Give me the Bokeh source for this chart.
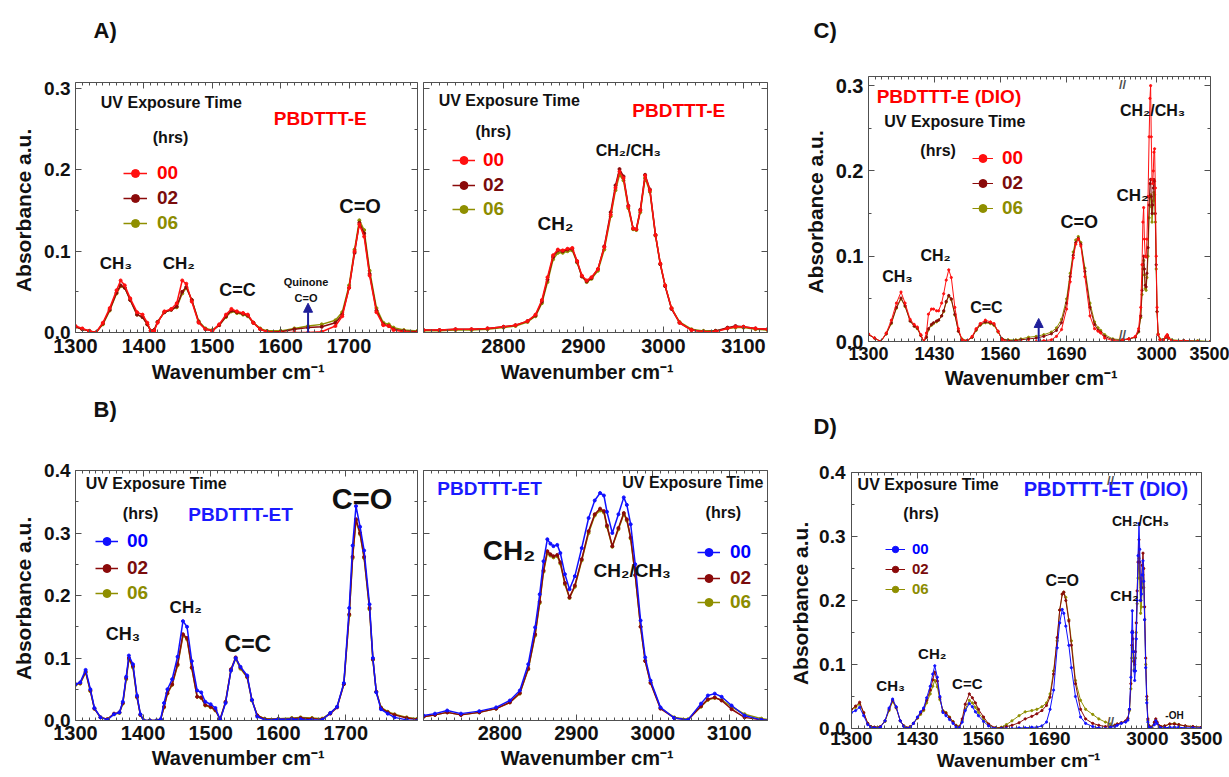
from bokeh.plotting import figure
from bokeh.models import (Range1d, LinearAxis, FixedTicker, PrintfTickFormatter, Label,
                          Legend, LegendItem, Arrow, NormalHead, ColumnDataSource)
from bokeh.layouts import row, column
from bokeh.core.properties import value
from bokeh.embed import file_html
from bokeh.resources import INLINE

# ---------------- data ----------------
SERIES = ["00", "02", "06"]

A_LEFT_X = [1300,1310,1320,1330,1340,1350,1360,1366,1372,1380,1390,1398,1405,1410,1415,1420,1430,1440,1448,1456,
            1462,1470,1480,1490,1500,1510,1520,1528,1536,1545,1552,1560,1570,1580,1600,1620,1640,1660,1680,1690,
            1700,1708,1715,1722,1730,1740,1750,1758,1765,1780,1800]
A_LEFT_00 = [.008,.005,.002,.000,.012,.030,.052,.064,.058,.042,.025,.022,.012,.002,.002,.012,.026,.029,.036,.064,
             .060,.038,.012,.004,.002,.010,.022,.029,.026,.024,.022,.012,.004,.001,.000,.000,.000,.001,.008,.020,
             .055,.100,.133,.118,.070,.025,.009,.008,.003,.001,.000]
A_LEFT_02 = [.007,.004,.002,.000,.011,.028,.049,.058,.055,.040,.022,.019,.010,.002,.003,.013,.025,.028,.032,.050,
             .056,.040,.013,.004,.002,.009,.020,.027,.025,.023,.021,.012,.004,.001,.001,.004,.006,.007,.012,.022,
             .055,.098,.135,.122,.072,.027,.010,.008,.004,.002,.001]
A_LEFT_06 = [.007,.004,.002,.000,.010,.027,.048,.057,.055,.040,.022,.019,.010,.002,.003,.013,.025,.028,.031,.048,
             .055,.040,.014,.005,.003,.009,.019,.026,.024,.022,.020,.012,.005,.002,.002,.005,.008,.010,.015,.025,
             .058,.102,.138,.126,.076,.030,.012,.010,.006,.003,.002]

A_RIGHT_X = [2700,2720,2740,2760,2780,2800,2815,2830,2840,2848,2855,2862,2868,2874,2880,2886,2892,2898,2904,2910,
             2918,2926,2934,2940,2945,2950,2956,2962,2966,2971,2977,2983,2990,2996,3002,3010,3020,3035,3050,3065,
             3080,3090,3100,3115,3130]
A_RIGHT_00 = [.003,.003,.004,.004,.005,.007,.009,.014,.022,.040,.068,.095,.102,.101,.103,.104,.088,.070,.064,.068,
              .078,.105,.145,.178,.198,.190,.155,.128,.127,.150,.193,.175,.120,.085,.058,.030,.012,.003,.001,.001,
              .005,.007,.007,.005,.004]
A_RIGHT_02 = [.003,.003,.004,.004,.005,.007,.009,.014,.021,.038,.065,.093,.101,.100,.102,.103,.087,.069,.063,.067,
              .078,.106,.148,.181,.201,.192,.156,.128,.127,.151,.194,.176,.120,.084,.057,.029,.012,.003,.001,.002,
              .006,.008,.007,.005,.004]
A_RIGHT_06 = [.002,.002,.003,.003,.004,.006,.008,.013,.020,.036,.062,.090,.098,.098,.100,.101,.086,.069,.062,.066,
              .076,.102,.143,.175,.194,.187,.153,.127,.126,.148,.190,.173,.119,.084,.058,.030,.013,.004,.002,.002,
              .005,.006,.006,.004,.003]

B_LEFT_X = [1300,1307,1315,1322,1328,1337,1347,1357,1365,1370,1375,1379,1385,1391,1396,1401,1410,1420,1426,1431,
            1436,1443,1451,1459,1465,1472,1480,1486,1492,1500,1507,1514,1522,1530,1537,1544,1554,1561,1569,1580,
            1600,1620,1633,1650,1665,1677,1687,1697,1705,1710,1715,1721,1727,1735,1740,1745,1752,1762,1772,1790,1806]
B_LEFT_00 = [.058,.061,.081,.050,.020,.005,.001,.010,.013,.030,.070,.104,.090,.040,.010,.000,.000,.000,.002,.028,
             .050,.066,.102,.159,.150,.095,.048,.045,.030,.026,.020,.001,.028,.080,.100,.086,.072,.033,.006,.001,
             .002,.002,.002,.001,.001,.012,.022,.060,.180,.280,.343,.310,.272,.186,.100,.045,.018,.011,.005,.001,.000]
B_LEFT_02 = [.058,.060,.078,.048,.019,.005,.002,.011,.013,.028,.068,.100,.087,.038,.009,.000,.000,.000,.002,.022,
             .044,.058,.090,.138,.132,.085,.038,.037,.025,.022,.017,.002,.030,.082,.101,.085,.070,.033,.008,.002,
             .002,.003,.004,.003,.002,.011,.021,.058,.170,.262,.322,.300,.262,.180,.098,.046,.020,.013,.009,.004,.002]
B_LEFT_06 = [.057,.059,.077,.047,.019,.005,.002,.010,.012,.027,.066,.098,.085,.037,.009,.000,.000,.000,.002,.021,
             .043,.057,.088,.136,.130,.084,.038,.036,.024,.021,.016,.002,.029,.080,.099,.083,.069,.032,.008,.003,
             .003,.004,.005,.004,.003,.012,.022,.058,.168,.260,.320,.298,.260,.178,.097,.046,.021,.014,.010,.005,.003]

B_RIGHT_X = [2700,2715,2731,2749,2773,2795,2813,2826,2837,2846,2852,2857,2862,2866,2870,2875,2879,2885,2891,2898,
             2907,2916,2924,2931,2936,2940,2947,2955,2962,2966,2971,2977,2984,2990,2997,3010,3028,3046,3063,3072,
             3081,3090,3103,3120,3142,3154]
B_RIGHT_00 = [.008,.011,.016,.011,.015,.021,.032,.048,.090,.149,.202,.255,.290,.283,.279,.281,.268,.234,.210,.231,
              .276,.324,.352,.364,.360,.334,.300,.330,.357,.345,.314,.250,.160,.101,.064,.021,.004,.001,.027,.040,
              .043,.038,.024,.008,.001,.000]
B_RIGHT_02 = [.006,.009,.013,.009,.013,.019,.029,.044,.083,.138,.190,.240,.271,.266,.263,.265,.253,.220,.197,.216,
              .258,.303,.330,.339,.335,.312,.279,.308,.332,.322,.293,.233,.150,.095,.060,.019,.004,.001,.023,.034,
              .037,.032,.018,.005,.001,.000]
B_RIGHT_06 = [.006,.009,.013,.009,.013,.019,.029,.043,.082,.136,.188,.238,.268,.264,.261,.263,.251,.218,.196,.214,
              .256,.300,.328,.336,.333,.310,.278,.306,.330,.320,.291,.232,.150,.096,.061,.020,.005,.002,.022,.033,
              .036,.033,.022,.010,.003,.001]

C_LEFT_X = [1300,1312,1324,1335,1345,1355,1364,1372,1382,1390,1396,1403,1409,1414,1418,1424,1428,1434,1438,1444,
            1448,1453,1458,1463,1470,1477,1484,1494,1504,1512,1520,1530,1540,1547,1555,1563,1575,1590,1600,1615,
            1630,1645,1660,1670,1680,1690,1697,1703,1708,1713,1718,1726,1736,1745,1752,1757,1765,1781,1800]
C_LEFT_00 = [.009,.004,.000,.010,.025,.045,.058,.045,.026,.020,.017,.008,.000,.010,.032,.038,.038,.036,.036,.045,
             .056,.072,.084,.075,.040,.015,.002,.001,.006,.015,.021,.025,.023,.021,.012,.002,.000,.000,.000,.000,
             .000,.001,.002,.006,.014,.038,.070,.098,.114,.120,.112,.076,.030,.015,.012,.010,.004,.001,.000]
C_LEFT_02 = [.008,.004,.000,.009,.022,.040,.051,.042,.024,.018,.016,.007,.000,.005,.015,.020,.022,.024,.025,.030,
             .036,.047,.054,.050,.032,.012,.002,.001,.005,.014,.020,.023,.022,.020,.012,.003,.001,.001,.002,.003,
             .004,.006,.009,.013,.022,.045,.076,.101,.116,.121,.114,.082,.040,.020,.013,.011,.006,.002,.001]
C_LEFT_06 = [.008,.004,.000,.009,.021,.039,.050,.041,.024,.018,.015,.007,.000,.005,.014,.019,.021,.023,.025,.030,
             .035,.046,.053,.049,.031,.012,.003,.001,.005,.013,.019,.022,.021,.019,.011,.003,.002,.002,.003,.005,
             .006,.008,.011,.016,.026,.050,.080,.105,.119,.123,.116,.086,.045,.023,.016,.013,.008,.003,.002]

C_RIGHT_X = [2680,2740,2800,2830,2850,2862,2870,2877,2884,2892,2900,2908,2918,2928,2936,2942,2948,2955,2961,2967,
             2973,2979,2986,2994,3002,3012,3030,3060,3085,3097,3110,3140,3250,3380,3500]
C_RIGHT_00 = [.002,.003,.006,.015,.040,.090,.140,.157,.120,.100,.099,.120,.170,.240,.285,.300,.240,.190,.185,.200,
              .222,.226,.180,.100,.040,.008,.002,.002,.006,.008,.004,.001,.001,.000,.000]
C_RIGHT_02 = [.002,.003,.005,.012,.030,.060,.090,.100,.085,.066,.064,.080,.110,.160,.185,.190,.170,.150,.160,.180,
              .190,.188,.150,.090,.035,.008,.002,.002,.005,.007,.004,.001,.001,.000,.000]
C_RIGHT_06 = [.002,.003,.005,.011,.028,.055,.085,.095,.078,.062,.060,.075,.100,.145,.168,.172,.158,.140,.150,.165,
              .175,.172,.140,.085,.035,.009,.003,.002,.005,.007,.004,.002,.001,.001,.000]

D_LEFT_X = [1300,1308,1316,1324,1332,1338,1345,1357,1366,1374,1381,1388,1396,1403,1409,1416,1422,1430,1436,1442,
            1448,1455,1460,1464,1469,1474,1480,1486,1493,1500,1506,1512,1518,1524,1532,1538,1544,1550,1560,1570,
            1583,1595,1605,1616,1630,1642,1655,1665,1675,1684,1691,1698,1705,1710,1715,1718,1722,1728,1733,1741,
            1751,1761,1775,1787,1800,1810]
D_LEFT_00 = [.025,.028,.033,.020,.006,.002,.001,.002,.012,.032,.046,.034,.012,.003,.000,.002,.008,.018,.026,.032,
             .048,.066,.085,.098,.080,.050,.025,.020,.014,.008,.002,.001,.010,.028,.039,.034,.026,.020,.011,.004,
             .000,.000,.000,.000,.001,.001,.002,.002,.004,.010,.030,.060,.126,.165,.186,.180,.160,.130,.095,.050,
             .018,.008,.003,.001,.000,.000]
D_LEFT_02 = [.030,.035,.041,.025,.008,.003,.002,.003,.012,.030,.044,.033,.012,.004,.001,.003,.008,.017,.024,.030,
             .044,.060,.076,.088,.074,.048,.027,.024,.017,.010,.004,.002,.015,.038,.054,.048,.040,.030,.018,.007,
             .001,.001,.003,.005,.009,.015,.019,.023,.028,.036,.049,.085,.142,.185,.210,.213,.200,.168,.130,.070,
             .030,.015,.008,.005,.003,.002]
D_LEFT_06 = [.030,.033,.038,.024,.008,.003,.002,.003,.011,.028,.042,.032,.012,.004,.001,.003,.008,.016,.022,.028,
             .040,.054,.066,.075,.065,.045,.028,.025,.018,.011,.005,.003,.012,.030,.044,.040,.033,.025,.014,.006,
             .001,.002,.006,.012,.020,.026,.028,.030,.034,.040,.054,.090,.137,.185,.210,.213,.205,.170,.137,.075,
             .044,.030,.022,.015,.010,.007]

D_RIGHT_X = [2660,2700,2722,2760,2800,2820,2835,2848,2856,2861,2866,2872,2878,2883,2890,2898,2906,2914,2923,2930,
             2938,2945,2952,2960,2967,2975,2985,2995,3005,3016,3040,3065,3078,3090,3110,3124,3160,3207,3250,3290,
             3350,3420,3500]
D_RIGHT_00 = [.002,.003,.005,.008,.010,.013,.030,.080,.150,.184,.150,.120,.090,.075,.090,.140,.200,.270,.320,.280,
              .200,.210,.240,.262,.230,.170,.095,.040,.010,.002,.001,.006,.012,.008,.002,.001,.001,.002,.002,.002,
              .001,.001,.001]
D_RIGHT_02 = [.003,.005,.007,.009,.012,.016,.030,.070,.130,.152,.140,.120,.105,.100,.120,.165,.215,.260,.295,.260,
              .200,.220,.255,.274,.250,.190,.110,.050,.015,.004,.002,.010,.015,.010,.004,.003,.004,.007,.007,.006,
              .004,.003,.002]
D_RIGHT_06 = [.003,.005,.007,.009,.011,.015,.028,.062,.110,.126,.120,.105,.092,.090,.110,.150,.195,.235,.266,.235,
              .180,.190,.220,.240,.220,.170,.100,.045,.013,.004,.002,.009,.013,.009,.004,.003,.004,.007,.008,.006,
              .004,.003,.002]

# tick labels
X_TICKS_LO = [1300, 1400, 1500, 1600, 1700]
X_TICKS_HI = [2800, 2900, 3000, 3100]
X_TICKS_BROKEN_LO = [1300, 1430, 1560, 1690]
X_TICKS_BROKEN_HI = [3000, 3500]
Y_TICKS_03 = [0.0, 0.1, 0.2, 0.3]
Y_TICKS_04 = [0.0, 0.1, 0.2, 0.3, 0.4]
Y_MINOR_03 = [0.05, 0.15, 0.25]
Y_MINOR_04 = [0.05, 0.15, 0.25, 0.35]

# ---------------- styling ----------------
FONT = "Liberation Sans"
AX = "#505050"
INK = "#111111"
E_COLORS = {"00": "#ff1010", "02": "#8b0a0a", "06": "#8f8f00"}
ET_COLORS = {"00": "#1010ff", "02": "#8b0a0a", "06": "#8f8f00"}
E_TEXT = {"00": "#ff0000", "02": "#7a0c0c", "06": "#8c8c00"}
ET_TEXT = {"00": "#0000ff", "02": "#7a0c0c", "06": "#8c8c00"}
RED_T = "#ff0000"
BLUE_T = "#1a1aff"
ARROW_C = "#1f1f9a"
XLABEL = "Wavenumber    cm\u207b\u00b9"
YLABEL = "Absorbance  a.u."


def new_fig(w, h, l, r, t, b, xr, yr):
    p = figure(width=w, height=h, x_range=xr, y_range=yr,
               x_axis_location=None, y_axis_location=None,
               toolbar_location=None, output_backend="svg",
               min_border_left=l, min_border_right=r, min_border_top=t, min_border_bottom=b)
    p.outline_line_color = None
    p.grid.visible = False
    p.background_fill_color = "white"
    p.border_fill_color = "white"
    return p


def strip(w, h):
    p = figure(width=w, height=h, x_range=Range1d(0, w), y_range=Range1d(0, h),
               x_axis_location=None, y_axis_location=None, toolbar_location=None,
               output_backend="svg", min_border=0)
    p.outline_line_color = None
    p.grid.visible = False
    p.border_fill_color = "white"
    return p


def add_axis(p, side, ticks, minor, size="20px", fmt=None, overrides=None,
             label=None, label_size="20px", standoff=5, label_standoff=3):
    ax = LinearAxis(ticker=FixedTicker(ticks=ticks, minor_ticks=minor))
    if fmt is not None:
        ax.formatter = fmt
    if overrides:
        ax.major_label_overrides = overrides
    ax.axis_line_color = AX
    ax.major_tick_line_color = AX
    ax.minor_tick_line_color = AX
    ax.major_tick_in = 6
    ax.major_tick_out = 0
    ax.minor_tick_in = 3
    ax.minor_tick_out = 0
    ax.major_label_text_font = FONT
    ax.major_label_text_font_style = "bold"
    ax.major_label_text_color = INK
    ax.major_label_text_font_size = size
    ax.major_label_standoff = standoff
    if label:
        ax.axis_label = label
        ax.axis_label_text_font = FONT
        ax.axis_label_text_font_style = "bold"
        ax.axis_label_text_font_size = label_size
        ax.axis_label_text_color = INK
        ax.axis_label_standoff = label_standoff
    p.add_layout(ax, side)
    return ax


def mirror_axis(p, side, majors, minors):
    # tick marks only (no labels): one axis for the minor marks, one for the major marks
    for ticks, length, line in ((minors, 3, AX), (majors, 6, None)):
        ax = LinearAxis(ticker=FixedTicker(ticks=[], minor_ticks=list(ticks)))
        ax.axis_line_color = line
        ax.major_tick_line_color = None
        ax.minor_tick_line_color = AX
        ax.major_tick_in = 0
        ax.major_tick_out = 0
        ax.minor_tick_in = length
        ax.minor_tick_out = 0
        ax.major_label_standoff = 0
        ax.axis_label_standoff = 0
        p.add_layout(ax, side)


def add_spectra(p, x, series, colors, lw, ms, rname="default"):
    rends = {}
    for key in ["06", "02", "00"]:
        src = ColumnDataSource(data=dict(x=x, y=series[key]))
        ln = p.line("x", "y", source=src, line_color=colors[key], line_width=lw, x_range_name=rname)
        sc = p.scatter("x", "y", source=src, marker="circle", size=ms, line_color=colors[key],
                       fill_color=colors[key], x_range_name=rname)
        rends[key] = [ln, sc]
    return rends


def add_legends(p, rends, colors, spots, gw, standoff, size, gh=20):
    for key, (vx, vy) in zip(SERIES, spots):
        lg = Legend(items=[LegendItem(label=value(key), renderers=rends[key])], location=(vx, vy),
                    padding=0, margin=0, spacing=0, glyph_width=gw, glyph_height=gh, label_height=gh,
                    label_standoff=standoff, label_text_font=FONT, label_text_font_style="bold",
                    label_text_font_size=f"{size}px", label_text_color=colors[key],
                    background_fill_alpha=0, border_line_alpha=0)
        p.add_layout(lg)


def txt(p, x, y, t, size, color=INK, align="center", rname="default", baseline="middle"):
    p.add_layout(Label(x=x, y=y, text=t, text_font=FONT, text_font_style="bold",
                       text_font_size=f"{size}px", text_color=color, text_align=align,
                       text_baseline=baseline, x_range_name=rname))


YFMT = PrintfTickFormatter(format="%.1f")


def minor_every(start, stop, step, majors):
    return [v for v in range(start, stop + 1, step) if v not in majors]


# ---------------- panel letters ----------------
top_strip = strip(1229, 44)
txt(top_strip, 93, 14, "A)", 22, align="left")
txt(top_strip, 813, 14, "C)", 22, align="left")
mid_strip = strip(1229, 45)
txt(mid_strip, 93, 31, "B)", 22, align="left")
txt(mid_strip, 813, 14, "D)", 22, align="left")

# ---------------- panel A (left) ----------------
pAL = new_fig(420, 351, 75, 3, 38, 63, Range1d(1300, 1800), Range1d(0, 0.3075))
mx = minor_every(1300, 1800, 10, X_TICKS_LO)
add_axis(pAL, "below", X_TICKS_LO, mx, size="20px", label=XLABEL, standoff=6, label_standoff=5)
mirror_axis(pAL, "above", X_TICKS_LO, mx)
add_axis(pAL, "left", Y_TICKS_03, Y_MINOR_03, size="19px", fmt=YFMT, label=YLABEL, label_size="21px",
         standoff=5, label_standoff=6)
mirror_axis(pAL, "right", Y_TICKS_03, Y_MINOR_03)
r = add_spectra(pAL, A_LEFT_X, {"00": A_LEFT_00, "02": A_LEFT_02, "06": A_LEFT_06}, E_COLORS, 1.5, 3)
add_legends(pAL, r, E_TEXT, [(48, 148), (48, 123), (48, 98)], 24, 10, 19)
txt(pAL, 1337, 0.283, "UV Exposure Time", 16, align="left")
txt(pAL, 1413, 0.240, "(hrs)", 16, align="left")
txt(pAL, 1590, 0.263, "PBDTTT-E", 19, RED_T, align="left")
txt(pAL, 1359, 0.085, "CH\u2083", 17)
txt(pAL, 1451, 0.085, "CH\u2082", 17)
txt(pAL, 1537, 0.052, "C=C", 18)
txt(pAL, 1637, 0.062, "Quinone", 11)
txt(pAL, 1637, 0.043, "C=O", 11)
txt(pAL, 1716, 0.155, "C=O", 20)
pAL.add_layout(Arrow(end=NormalHead(size=9, fill_color=ARROW_C, line_color=ARROW_C),
                     x_start=1640, y_start=-0.022, x_end=1640, y_end=0.036,
                     line_color=ARROW_C, line_width=2))

# ---------------- panel A (right) ----------------
pAR = new_fig(350, 351, 3, 3, 38, 63, Range1d(2700, 3130), Range1d(0, 0.3075))
mx = minor_every(2700, 3130, 10, X_TICKS_HI)
add_axis(pAR, "below", X_TICKS_HI, mx, size="20px", label=XLABEL, standoff=6, label_standoff=5)
mirror_axis(pAR, "above", X_TICKS_HI, mx)
mirror_axis(pAR, "left", Y_TICKS_03, Y_MINOR_03)
mirror_axis(pAR, "right", Y_TICKS_03, Y_MINOR_03)
r = add_spectra(pAR, A_RIGHT_X, {"00": A_RIGHT_00, "02": A_RIGHT_02, "06": A_RIGHT_06}, E_COLORS, 1.5, 3)
add_legends(pAR, r, E_TEXT, [(29, 161), (29, 136), (29, 112)], 23, 8, 19)
txt(pAR, 2719, 0.285, "UV Exposure Time", 16, align="left")
txt(pAR, 2765, 0.247, "(hrs)", 16, align="left")
txt(pAR, 2961, 0.273, "PBDTTT-E", 19, RED_T, align="left")
txt(pAR, 2865, 0.134, "CH\u2082", 19)
txt(pAR, 2956, 0.224, "CH\u2082/CH\u2083", 16)


# ---------------- broken-axis panels ----------------
def broken_panel(w, h, l, r_, t, b, frame_w, seam_px, lo_break, hi_break, ymax):
    lo0, hi1 = 1300.0, 3500.0
    lo1 = lo0 + (lo_break - lo0) * frame_w / seam_px
    hi0 = hi1 - (hi1 - hi_break) * frame_w / (frame_w - seam_px)
    p = new_fig(w, h, l, r_, t, b, Range1d(lo0, lo1), Range1d(0, ymax))
    p.extra_x_ranges = {"hi": Range1d(hi0, hi1)}

    def conv(v):
        return round(min(lo0 + (v - hi0) * (lo1 - lo0) / (hi1 - hi0), lo1), 6)
    majors = list(X_TICKS_BROKEN_LO) + [conv(v) for v in X_TICKS_BROKEN_HI]
    overrides = {conv(v): str(v) for v in X_TICKS_BROKEN_HI}
    minors = [v for v in range(1300, int(lo_break) + 1, 13) if v not in X_TICKS_BROKEN_LO]
    minors += [conv(v) for v in range(2700, 3500, 50) if v not in X_TICKS_BROKEN_HI]
    return p, majors, minors, overrides


# ---------------- panel C ----------------
pC, cmaj, cmin, cov = broken_panel(459, 351, 98, 19, 32, 54, 342, 254, 1800, 2680, 0.3107)
add_axis(pC, "below", cmaj, cmin, size="18px", overrides=cov, label=XLABEL, standoff=5, label_standoff=4)
mirror_axis(pC, "above", cmaj, cmin)
add_axis(pC, "left", Y_TICKS_03, Y_MINOR_03, size="20px", fmt=YFMT, label=YLABEL, label_size="21px",
         standoff=5, label_standoff=6)
mirror_axis(pC, "right", Y_TICKS_03, Y_MINOR_03)
r = add_spectra(pC, C_LEFT_X, {"00": C_LEFT_00, "02": C_LEFT_02, "06": C_LEFT_06}, E_COLORS, 1.0, 2.2)
add_spectra(pC, C_RIGHT_X, {"00": C_RIGHT_00, "02": C_RIGHT_02, "06": C_RIGHT_06}, E_COLORS, 1.0, 2.2, rname="hi")
add_legends(pC, r, E_TEXT, [(104, 172), (104, 147), (104, 122)], 21, 9, 19)
txt(pC, 1316, 0.287, "PBDTTT-E (DIO)", 19, RED_T, align="left")
txt(pC, 1331, 0.258, "UV Exposure Time", 16, align="left")
txt(pC, 1402, 0.224, "(hrs)", 16, align="left")
txt(pC, 1357, 0.076, "CH\u2083", 16)
txt(pC, 1432, 0.101, "CH\u2082", 16)
txt(pC, 1532, 0.040, "C=C", 16)
txt(pC, 1715, 0.140, "C=O", 18)
txt(pC, 2773, 0.171, "CH\u2082", 17, rname="hi")
txt(pC, 2960, 0.271, "CH\u2082/CH\u2083", 16, rname="hi")
txt(pC, 2680, 0.0, "//", 13, AX, rname="hi", baseline="bottom")
txt(pC, 2680, 0.3107, "//", 13, AX, rname="hi", baseline="top")
pC.add_layout(Arrow(end=NormalHead(size=9, fill_color=ARROW_C, line_color=ARROW_C),
                    x_start=1635, y_start=-0.019, x_end=1635, y_end=0.027,
                    line_color=ARROW_C, line_width=2))

# ---------------- panel B (left) ----------------
pBL = new_fig(420, 337, 75, 3, 30, 57, Range1d(1300, 1806), Range1d(0, 0.4))
mx = minor_every(1300, 1806, 10, X_TICKS_LO)
add_axis(pBL, "below", X_TICKS_LO, mx, size="20px", label=XLABEL, standoff=5, label_standoff=4)
mirror_axis(pBL, "above", X_TICKS_LO, mx)
add_axis(pBL, "left", Y_TICKS_04, Y_MINOR_04, size="19px", fmt=YFMT, label=YLABEL,
         label_size="21px", standoff=5, label_standoff=6)
mirror_axis(pBL, "right", Y_TICKS_04, Y_MINOR_04)
r = add_spectra(pBL, B_LEFT_X, {"00": B_LEFT_00, "02": B_LEFT_02, "06": B_LEFT_06}, ET_COLORS, 1.5, 3)
add_legends(pBL, r, ET_TEXT, [(20, 168), (20, 141), (20, 116)], 23, 9, 19)
txt(pBL, 1315, 0.379, "UV Exposure Time", 16, align="left")
txt(pBL, 1370, 0.331, "(hrs)", 16, align="left")
txt(pBL, 1467, 0.330, "PBDTTT-ET", 19, BLUE_T, align="left")
txt(pBL, 1370, 0.139, "CH\u2083", 18)
txt(pBL, 1463, 0.181, "CH\u2082", 17)
txt(pBL, 1555, 0.123, "C=C", 23)
txt(pBL, 1724, 0.355, "C=O", 29)

# ---------------- panel B (right) ----------------
pBR = new_fig(350, 337, 3, 3, 30, 57, Range1d(2700, 3150), Range1d(0, 0.4))
mx = minor_every(2700, 3150, 10, X_TICKS_HI)
add_axis(pBR, "below", X_TICKS_HI, mx, size="20px", label=XLABEL, standoff=5, label_standoff=4)
mirror_axis(pBR, "above", X_TICKS_HI, mx)
mirror_axis(pBR, "left", Y_TICKS_04, Y_MINOR_04)
mirror_axis(pBR, "right", Y_TICKS_04, Y_MINOR_04)
r = add_spectra(pBR, B_RIGHT_X, {"00": B_RIGHT_00, "02": B_RIGHT_02, "06": B_RIGHT_06}, ET_COLORS, 1.5, 3)
add_legends(pBR, r, ET_TEXT, [(274, 157), (274, 131), (274, 107)], 23, 10, 19)
txt(pBR, 2718, 0.371, "PBDTTT-ET", 19, BLUE_T, align="left")
txt(pBR, 2960, 0.381, "UV Exposure Time", 16, align="left")
txt(pBR, 3069, 0.333, "(hrs)", 16, align="left")
txt(pBR, 2812, 0.272, "CH\u2082", 28)
txt(pBR, 2973, 0.240, "CH\u2082/CH\u2083", 19)

# ---------------- panel D ----------------
pD, dmaj, dmin, dov = broken_panel(459, 337, 81, 28, 32, 49, 350, 259, 1810, 2660, 0.4)
add_axis(pD, "below", dmaj, dmin, size="19px", overrides=dov, label=XLABEL, label_size="19px",
         standoff=3, label_standoff=2)
mirror_axis(pD, "above", dmaj, dmin)
add_axis(pD, "left", Y_TICKS_04, Y_MINOR_04, size="19px", fmt=YFMT, label=YLABEL,
         label_size="21px", standoff=6, label_standoff=4)
mirror_axis(pD, "right", Y_TICKS_04, Y_MINOR_04)
r = add_spectra(pD, D_LEFT_X, {"00": D_LEFT_00, "02": D_LEFT_02, "06": D_LEFT_06}, ET_COLORS, 1.0, 2.2)
add_spectra(pD, D_RIGHT_X, {"00": D_RIGHT_00, "02": D_RIGHT_02, "06": D_RIGHT_06}, ET_COLORS, 1.0, 2.2, rname="hi")
add_legends(pD, r, ET_TEXT, [(34, 171), (34, 151), (34, 131)], 20, 7, 15, gh=16)
txt(pD, 1312, 0.381, "UV Exposure Time", 16, align="left")
txt(pD, 1639, 0.375, "PBDTTT-ET (DIO)", 20, BLUE_T, align="left")
txt(pD, 1402, 0.336, "(hrs)", 16, align="left")
txt(pD, 1377, 0.067, "CH\u2083", 15)
txt(pD, 1459, 0.117, "CH\u2082", 15)
txt(pD, 1528, 0.070, "C=C", 15)
txt(pD, 1715, 0.231, "C=O", 16)
txt(pD, 2789, 0.208, "CH\u2082", 15, rname="hi")
txt(pD, 2937, 0.325, "CH\u2082/CH\u2083", 14, rname="hi")
txt(pD, 3251, 0.020, "-OH", 10, rname="hi")
txt(pD, 2660, 0.0, "//", 13, AX, rname="hi", baseline="bottom")
txt(pD, 2660, 0.4, "//", 13, AX, rname="hi", baseline="top")

layout = column(
    top_strip,
    row(pAL, pAR, column(pC)),
    mid_strip,
    row(pBL, pBR, column(pD)),
)
open("out.html", "w").write(file_html(layout, INLINE))
